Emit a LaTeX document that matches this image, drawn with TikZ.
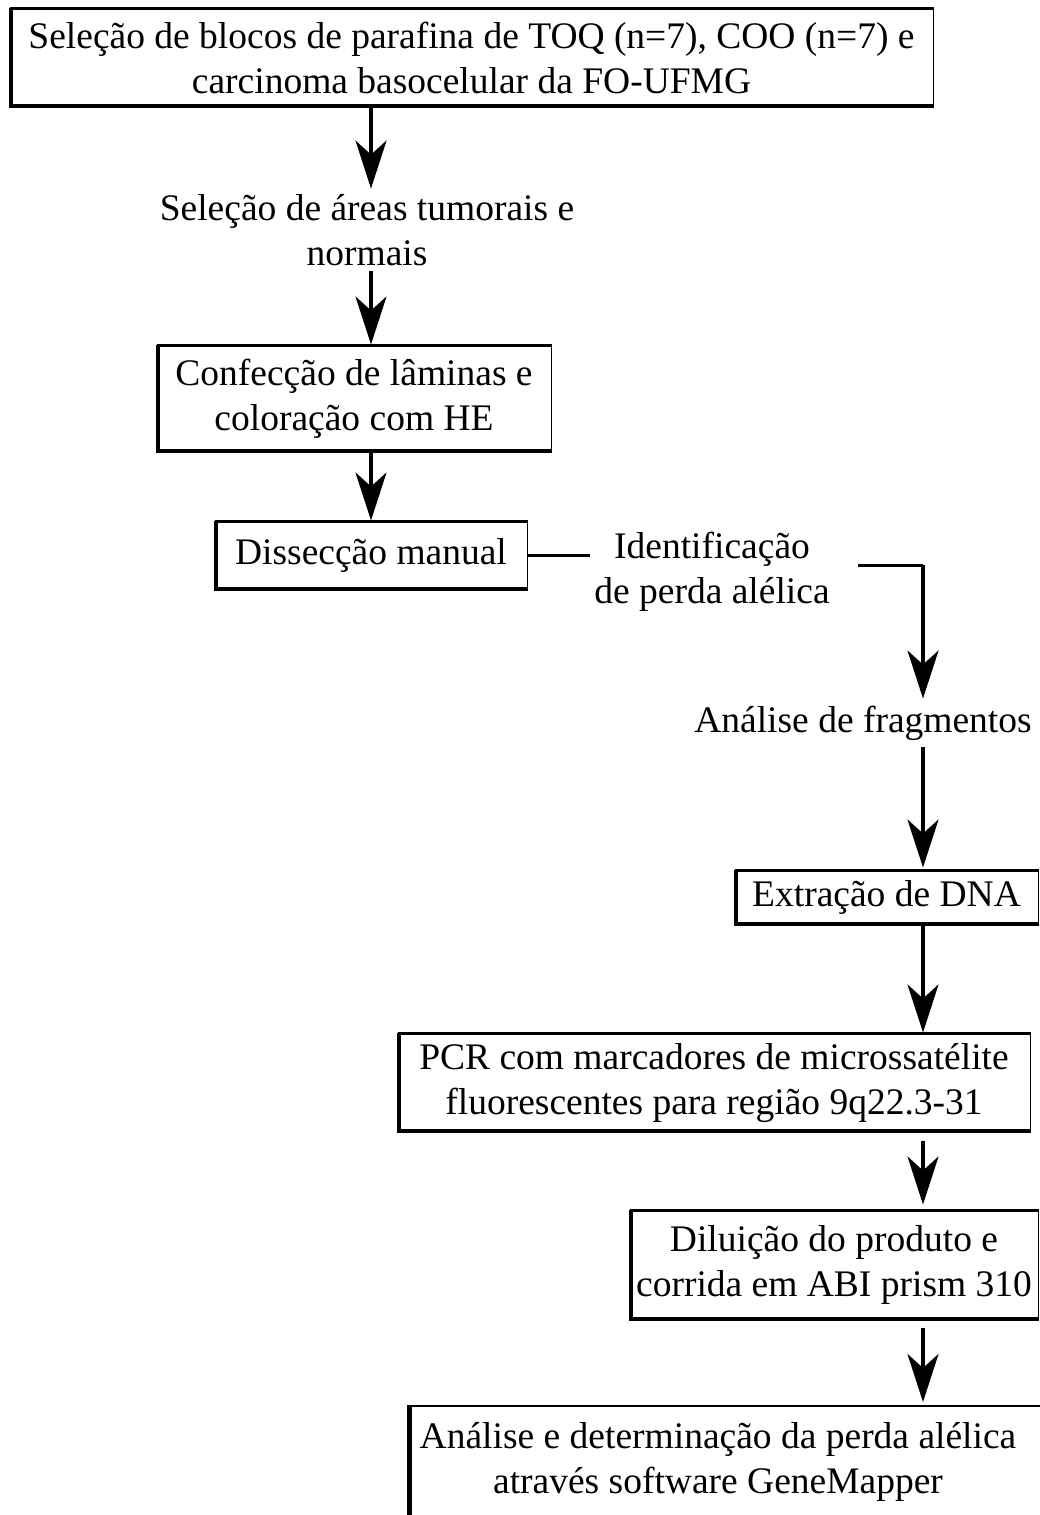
\documentclass[tikz,border=0pt]{standalone}
\usepackage{fontspec}
\setmainfont{Liberation Serif}
\usetikzlibrary{arrows.meta,calc}
\tikzset{
  lbl/.style={align=center,inner sep=0pt,font=\fontsize{37.5}{45}\selectfont},
  sbox/.style={lbl,draw,line width=1pt},
  arr/.style={line width=3.2pt,-{Stealth[length=48pt,width=31pt,inset=14pt]}},
  conn/.style={line width=3pt},
  heavy/.style={line width=4.5pt},
  mid/.style={line width=2.6pt}
}
\newcommand{\sketchedges}[1]{%
  \draw[heavy] ([xshift=1.5pt]#1.north west) -- ([xshift=1.5pt,yshift=1.5pt]#1.south west) -- ([yshift=1.5pt]#1.south east);
  \draw[mid] ([yshift=-1pt]#1.north west) -- ([yshift=-1pt]#1.north east);
}
\begin{document}
\begin{tikzpicture}[x=1pt,y=-1pt]
\useasboundingbox (0,0) rectangle (1040,1515);
\clip (0,0) rectangle (1040,1515);
% boxes and labels
\node[sbox,minimum width=923pt,minimum height=99pt] (b1) at (471.5,57.5) {Seleção de blocos de parafina de TOQ (n=7), COO (n=7) e\\carcinoma basocelular da FO-UFMG};
\node[lbl] (t1) at (367,230) {Seleção de áreas tumorais e\\normais};
\node[sbox,minimum width=394pt,minimum height=107pt] (b2) at (354,398.5) {Confecção de lâminas e\\coloração com HE};
\node[sbox,minimum width=312pt,minimum height=69pt] (b3) at (371,555.5) {Dissecção manual};
\node[lbl] (t2) at (712,572) {Identificação\\de perda alélica};
\node[lbl] (t3) at (863,723) {Análise de fragmentos};
\node[sbox,minimum width=303pt,minimum height=55pt] (b4) at (886.5,897.5) {Extração de DNA};
\node[sbox,minimum width=632pt,minimum height=99pt] (b5) at (714,1082.5) {PCR com marcadores de microssatélite\\fluorescentes para região 9q22.3-31};
\node[sbox,minimum width=408pt,minimum height=110pt] (b6) at (834,1265) {Diluição do produto e\\corrida em ABI prism 310};
\node[sbox,minimum width=640pt,minimum height=200pt,anchor=north west] (b7) at (408,1405) {};
\node[lbl] (t7) at (718,1462) {Análise e determinação da perda alélica\\através software GeneMapper};
\sketchedges{b1}
\sketchedges{b2}
\sketchedges{b3}
\sketchedges{b4}
\sketchedges{b5}
\sketchedges{b6}
\draw[heavy] ([xshift=1.5pt]b7.north west) -- ([xshift=1.5pt]b7.south west);
\draw[mid] ([yshift=-1pt]b7.north west) -- ([yshift=-1pt]b7.north east);
% named connector point
\coordinate (c1) at (923,565);
% connectors
\draw[arr] (b1.south -| b3) -- ([yshift=5.5pt]t1.north -| b3);
\draw[arr] ([yshift=-5.5pt]t1.south -| b3) -- (b2.north -| b3);
\draw[arr] (b2.south -| b3) -- (b3.north);
\draw[conn] (b3.east) -- ([xshift=-4pt]t2.west |- b3.east);
\draw[conn] ([xshift=28pt]t2.east |- c1) -- (c1);
\draw[arr] (c1) -- ([yshift=7pt]t3.north -| c1);
\draw[arr] ([yshift=-7pt]t3.south -| c1) -- ([yshift=2pt]b4.north -| c1);
\draw[arr] (b4.south -| c1) -- (b5.north -| c1);
\draw[arr] ([yshift=-8pt]b5.south -| c1) -- ([yshift=5pt]b6.north -| c1);
\draw[arr] ([yshift=-7pt]b6.south -| c1) -- ([yshift=3pt]b7.north -| c1);
\end{tikzpicture}
\end{document}
